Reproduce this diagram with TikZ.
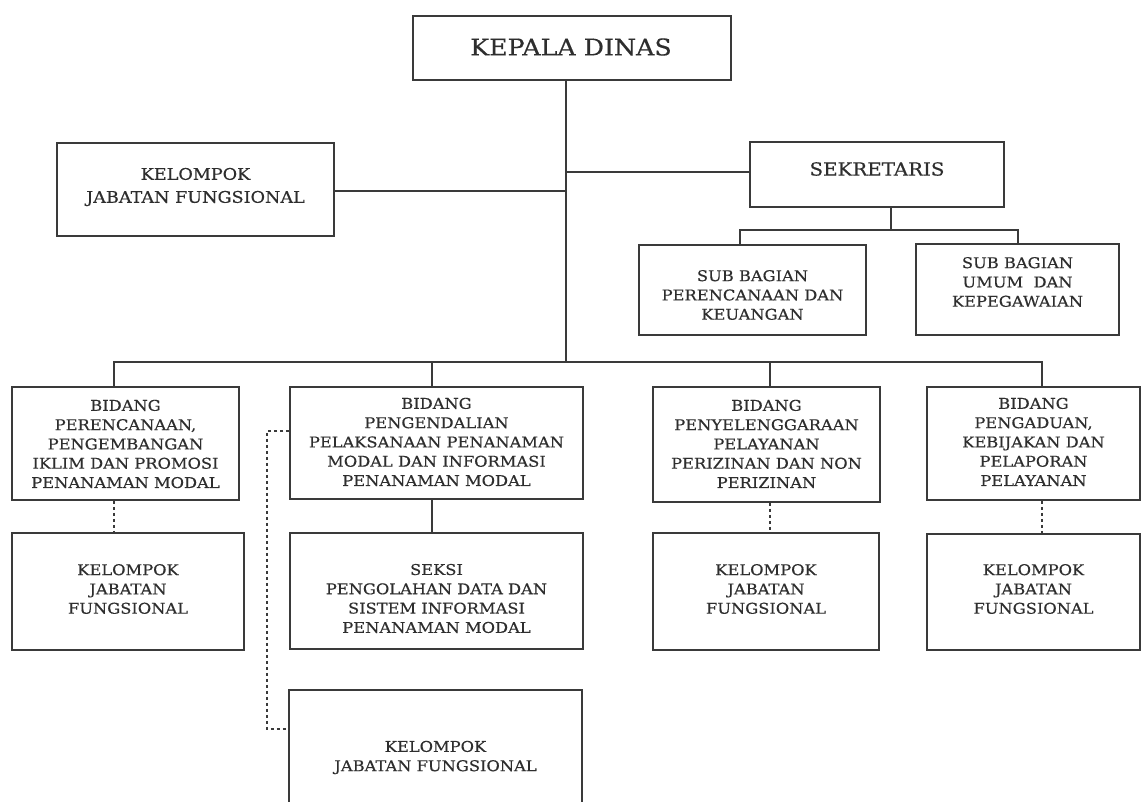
\documentclass[tikz,border=0pt]{standalone}
\usepackage{fontspec}
\setmainfont{DejaVu Serif}[FakeStretch=1.1,FakeBold=0.4]
\definecolor{linec}{HTML}{3A3A3A}
\definecolor{textc}{HTML}{2E2E2E}
\tikzset{
  box/.style={draw=linec, line width=1.6pt, rectangle, inner sep=0pt},
  conn/.style={draw=linec, line width=1.6pt},
  dconn/.style={draw=linec, line width=1.6pt, dash pattern=on 3pt off 3pt},
  txt/.style={text=textc, align=center, inner sep=0pt, font=\fontsize{14.8}{19.3}\selectfont},
  txtm/.style={txt, font=\fontsize{16}{23}\selectfont},
  txtl/.style={txt, font=\fontsize{18}{22}\selectfont},
  txtxl/.style={txt, font=\fontsize{23}{28}\selectfont},
}
\begin{document}
\begin{tikzpicture}[x=1pt,y=-1pt]
\useasboundingbox (0,0) rectangle (1142,802);
\fill[white] (0,0) rectangle (1142,802);
\clip (0,0) rectangle (1142,802);

% boxes
\node[box, minimum width=318pt, minimum height=64pt] (kd) at (572,48) {};
\node[box, minimum width=277pt, minimum height=93pt] (kjf) at (195.5,189.5) {};
\node[box, minimum width=254pt, minimum height=65pt] (sek) at (877,174.5) {};
\node[box, minimum width=227pt, minimum height=90pt] (sbp) at (752.5,290) {};
\node[box, minimum width=203pt, minimum height=91pt] (sbu) at (1017.5,289.5) {};
\node[box, minimum width=227pt, minimum height=113pt] (b1) at (125.5,443.5) {};
\node[box, minimum width=293pt, minimum height=112pt] (b2) at (436.5,443) {};
\node[box, minimum width=227pt, minimum height=115pt] (b3) at (766.5,444.5) {};
\node[box, minimum width=213pt, minimum height=113pt] (b4) at (1033.5,443.5) {};
\node[box, minimum width=232pt, minimum height=117pt] (k1) at (128,591.5) {};
\node[box, minimum width=293pt, minimum height=116pt] (sk) at (436.5,591) {};
\node[box, minimum width=226pt, minimum height=117pt] (k3) at (766,591.5) {};
\node[box, minimum width=213pt, minimum height=116pt] (k4) at (1033.5,592) {};
\node[box, minimum width=293pt, minimum height=140pt] (kf) at (435.5,760) {};

% texts
\node[txtxl] (tkd) at (571,47) {KEPALA DINAS};
\node[txtm] (tkjf) at (195.5,187) {KELOMPOK\\JABATAN FUNGSIONAL};
\node[txtl] (tsek) at (877,169) {SEKRETARIS};
\node[txt] (tsbp) at (752.5,295) {SUB BAGIAN\\PERENCANAAN DAN\\KEUANGAN};
\node[txt] (tsbu) at (1017.5,282) {SUB BAGIAN\\UMUM\ \ DAN\\KEPEGAWAIAN};
\node[txt] (tb1) at (125.5,444) {BIDANG\\PERENCANAAN,\\PENGEMBANGAN\\IKLIM DAN PROMOSI\\PENANAMAN MODAL};
\node[txt] (tb2) at (436.5,442) {BIDANG\\PENGENDALIAN\\PELAKSANAAN PENANAMAN\\MODAL DAN INFORMASI\\PENANAMAN MODAL};
\node[txt] (tb3) at (766.5,444) {BIDANG\\PENYELENGGARAAN\\PELAYANAN\\PERIZINAN DAN NON\\PERIZINAN};
\node[txt] (tb4) at (1033.5,442) {BIDANG\\PENGADUAN,\\KEBIJAKAN DAN\\PELAPORAN\\PELAYANAN};
\node[txt] (tk1) at (128,589) {KELOMPOK\\JABATAN\\FUNGSIONAL};
\node[txt] (tsk) at (436.5,598.5) {SEKSI\\PENGOLAHAN DATA DAN\\SISTEM INFORMASI\\PENANAMAN MODAL};
\node[txt] (tk3) at (766,589) {KELOMPOK\\JABATAN\\FUNGSIONAL};
\node[txt] (tk4) at (1033.5,589) {KELOMPOK\\JABATAN\\FUNGSIONAL};
\node[txt] (tkf) at (435.5,757.5) {KELOMPOK\\JABATAN FUNGSIONAL};

% junction coordinates
\coordinate (m) at (566,362);
\coordinate (jK) at (566,191);
\coordinate (jS) at (566,172);
\coordinate (s0) at (891,230);
\coordinate (sL) at (740,230);
\coordinate (sR) at (1018,230);
\coordinate (bL) at (114,362);
\coordinate (d2) at (432,362);
\coordinate (d3) at (770,362);
\coordinate (bR) at (1042,362);
\coordinate (dTop) at (267,431);
\coordinate (dBot) at (267,729);

% connectors
\draw[conn] (kd.south -| m) -- (m);
\draw[conn] (jK -| kjf.east) -- (jK);
\draw[conn] (jS) -- (jS -| sek.west);
\draw[conn] (sek.south -| s0) -- (s0);
\draw[conn] (sbp.north -| sL) -- (sL) -- (sR) -- (sbu.north -| sR);
\draw[conn] (b1.north -| bL) -- (bL) -- (bR) -- (b4.north -| bR);
\draw[conn] (d2) -- (b2.north -| d2);
\draw[conn] (d3) -- (b3.north -| d3);
\draw[conn] (b2.south -| d2) -- (sk.north -| d2);
\draw[dconn] (b1.south -| bL) -- (k1.north -| bL);
\draw[dconn] (b3.south -| d3) -- (k3.north -| d3);
\draw[dconn] (b4.south -| bR) -- (k4.north -| bR);
\draw[dconn] (dTop -| b2.west) -- (dTop) -- (dBot) -- (dBot -| kf.west);
\end{tikzpicture}
\end{document}
